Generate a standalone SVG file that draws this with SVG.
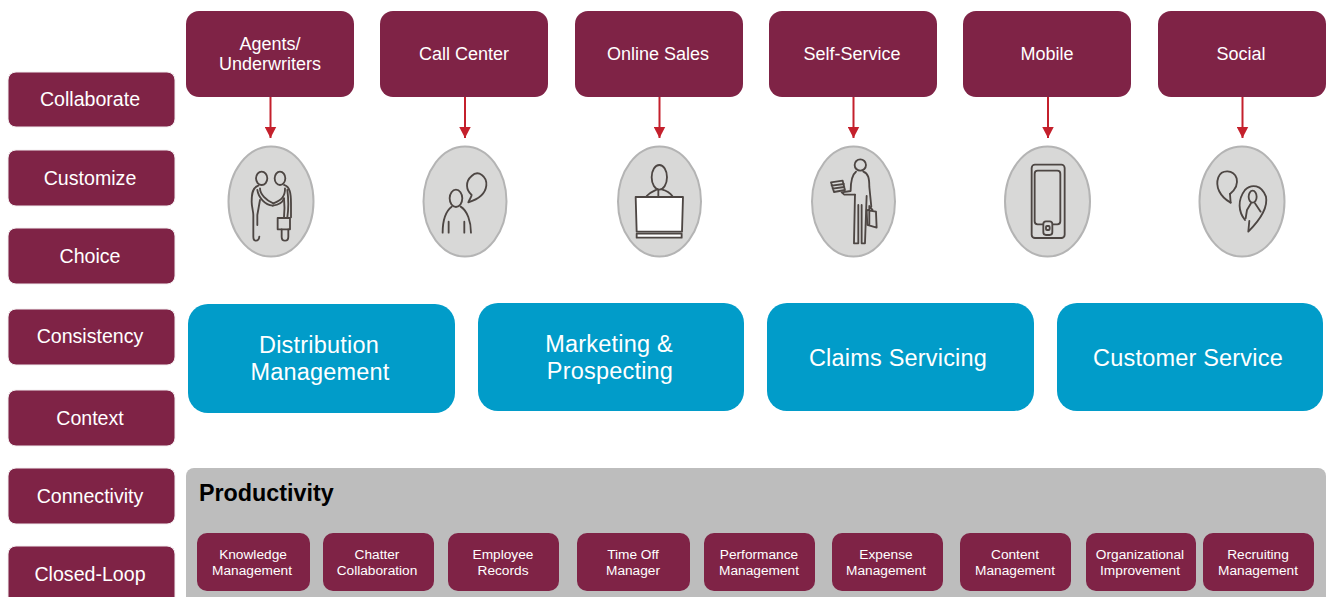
<svg xmlns="http://www.w3.org/2000/svg" width="1327" height="597" viewBox="0 0 1327 597">
<style>
text{font-family:"Liberation Sans",Arial,sans-serif;text-anchor:middle;fill:#fff}
.m{fill:#7f2346}
.side{stroke:#f3eef0;stroke-width:1}
.sl{font-size:19.6px}
.tl{font-size:18px}
.bl{font-size:23.500px;letter-spacing:.2px}
.sm{font-size:13.700px}
.b{fill:#019cc9}
.e{fill:#d8d8d7;stroke:#b4b4b4;stroke-width:2}
.i{fill:none;stroke:#4d4643;stroke-width:5.500;stroke-linecap:round;stroke-linejoin:round}
.w{fill:#fff}
.c{stroke:#c4202c;stroke-width:2;fill:none;marker-end:url(#ah)}
</style>
<defs>
<marker id="ah" markerUnits="userSpaceOnUse" markerWidth="12" markerHeight="12" refX="11.500" refY="6" orient="auto"><path d="M0,0L11.500,6L0,12Z" fill="#c4202c"/></marker>
</defs>
<rect width="1327" height="597" fill="#fff"/>
<g id="side-collaborate"><rect class="m side" x="8" y="72" width="167" height="55" rx="8"/><text class="sl" x="90" y="106">Collaborate</text></g>
<g id="side-customize"><rect class="m side" x="8" y="150" width="167" height="56" rx="8"/><text class="sl" x="90" y="185">Customize</text></g>
<g id="side-choice"><rect class="m side" x="8" y="228" width="167" height="56" rx="8"/><text class="sl" x="90" y="263">Choice</text></g>
<g id="side-consistency"><rect class="m side" x="8" y="309" width="167" height="56" rx="8"/><text class="sl" x="90" y="343">Consistency</text></g>
<g id="side-context"><rect class="m side" x="8" y="390" width="167" height="56" rx="8"/><text class="sl" x="90" y="425">Context</text></g>
<g id="side-connectivity"><rect class="m side" x="8" y="468" width="167" height="56" rx="8"/><text class="sl" x="90" y="503">Connectivity</text></g>
<g id="side-closed-loop"><rect class="m side" x="8" y="546" width="167" height="60" rx="8"/><text class="sl" x="90" y="581">Closed-Loop</text></g>

<g id="top-agents"><rect class="m" x="186" y="11" width="168" height="86" rx="13"/><text class="tl" x="270" y="50">Agents/</text><text class="tl" x="270" y="70">Underwriters</text></g>
<g id="top-call"><rect class="m" x="380" y="11" width="168" height="86" rx="13"/><text class="tl" x="464" y="60">Call Center</text></g>
<g id="top-online"><rect class="m" x="575" y="11" width="168" height="86" rx="13"/><text class="tl" x="658" y="60">Online Sales</text></g>
<g id="top-self"><rect class="m" x="769" y="11" width="168" height="86" rx="13"/><text class="tl" x="852" y="60">Self-Service</text></g>
<g id="top-mobile"><rect class="m" x="963" y="11" width="168" height="86" rx="13"/><text class="tl" x="1047" y="60">Mobile</text></g>
<g id="top-social"><rect class="m" x="1158" y="11" width="168" height="86" rx="13"/><text class="tl" x="1241" y="60">Social</text></g>

<g id="connectors">
<path class="c" d="M270.500 97V138"/>
<path class="c" d="M465 97V138"/>
<path class="c" d="M659.500 97V138"/>
<path class="c" d="M853.500 97V138"/>
<path class="c" d="M1048 97V138"/>
<path class="c" d="M1242.500 97V138"/>
</g>

<g id="icon-agents">
<ellipse class="e" cx="271" cy="201.500" rx="42.500" ry="55"/>
<g class="i" transform="translate(210 90) scale(.3333)">
<ellipse cx="155" cy="265" rx="17" ry="20"/><ellipse cx="210" cy="265" rx="16" ry="20"/>
<path d="M145 287C128 292 125 310 125 335C125 350 130 365 130 375V440C130 456 146 456 148 440"/>
<path d="M150 330L142 375V405"/>
<path d="M150 295C150 312 168 332 190 340M142 300C145 322 165 345 188 347"/>
<path d="M225 295C226 320 214 332 190 340M188 347C205 345 218 338 222 325"/>
<path d="M222 285C240 290 243 310 243 340V382M232 300C236 330 236 355 232 382M222 325C224 345 224 365 222 382"/>
<rect x="203" y="384" width="37" height="34"/>
<path d="M215 418V440C215 456 235 456 235 440V418"/>
</g>
</g>
<g id="icon-call">
<ellipse class="e" cx="465" cy="201.500" rx="41.500" ry="55"/>
<g class="i" transform="translate(210 90) scale(.3333)">
<ellipse cx="738" cy="325" rx="19" ry="26"/>
<path d="M698 428C698 385 712 360 725 350M752 350C772 362 783 395 783 428M716 428V395M763 428V395"/>
<path d="M775 337C780 325 785 320 785 315C768 300 765 275 785 258C805 238 832 260 829 287C826 312 805 328 775 337Z"/>
</g>
</g>
<g id="icon-online">
<ellipse class="e" cx="659.500" cy="201.500" rx="41.500" ry="55"/>
<g class="i" transform="translate(600 90) scale(.3333)">
<ellipse cx="178" cy="262" rx="23" ry="37"/>
<path d="M140 318C150 306 165 302 172 298M185 298C197 301 210 308 217 318M175 300V320"/>
<path class="w" d="M107 321H249L246 425H110Z"/>
<rect class="w" x="110" y="431" width="135" height="12"/>
</g>
</g>
<g id="icon-self">
<ellipse class="e" cx="853.500" cy="201.500" rx="41.500" ry="55"/>
<g class="i" transform="translate(600 90) scale(.3333)">
<circle cx="781" cy="225" r="17"/>
<path d="M768 245C755 255 752 275 752 303L725 307L733 314H765M790 245C805 250 808 265 808 290L814 350"/>
<path d="M765 314L762 460H775V345M785 345V460H795L800 318"/>
<path d="M693 277L728 272L735 300L702 306ZM695 287L732 282M698 296L733 291"/>
<path d="M800 360L828 365L830 413L802 405ZM808 362V405M808 360L808 348L818 360"/>
</g>
</g>
<g id="icon-mobile">
<ellipse class="e" cx="1047.500" cy="201.500" rx="42.500" ry="55"/>
<g class="i" transform="translate(990 90) scale(.3333)">
<rect x="125" y="224" width="99" height="220" rx="10"/>
<rect x="134" y="242" width="77" height="161" rx="9"/>
<rect x="160" y="394" width="27" height="41" rx="8" fill="#d8d8d7"/>
<rect x="168" y="408" width="11" height="12" rx="3"/>
</g>
</g>
<g id="icon-social">
<ellipse class="e" cx="1242" cy="201.500" rx="42.500" ry="55"/>
<g class="i" transform="translate(990 90) scale(.3333)">
<path d="M722 338C690 320 675 290 685 262C695 238 730 238 740 265C745 285 735 300 720 312"/>
<path d="M722 338L720 312"/>
<path d="M765 390C745 365 742 330 765 300C785 280 815 285 828 320C835 355 805 395 775 425L778 393"/>
<ellipse cx="788" cy="320" rx="12" ry="18"/>
<path d="M767 385L771 360L783 340M795 340L812 365"/>
</g>
</g>

<g id="mod-distribution"><rect class="b" x="188" y="304" width="267" height="109" rx="20"/><text class="bl" x="319" y="353">Distribution</text><text class="bl" x="320" y="380">Management</text></g>
<g id="mod-marketing"><rect class="b" x="478" y="303" width="266" height="108" rx="20"/><text class="bl" x="609" y="352">Marketing &amp;</text><text class="bl" x="610" y="379">Prospecting</text></g>
<g id="mod-claims"><rect class="b" x="767" y="303" width="267" height="108" rx="20"/><text class="bl" x="898" y="366">Claims Servicing</text></g>
<g id="mod-customer"><rect class="b" x="1057" y="303" width="266" height="108" rx="20"/><text class="bl" x="1188" y="366">Customer Service</text></g>

<g id="productivity">
<rect x="186" y="468" width="1140" height="140" rx="8" fill="#bdbdbd"/>
<text x="199" y="501" style="text-anchor:start;fill:#000;font-weight:bold;font-size:23.300px">Productivity</text>
</g>
<g id="p-knowledge"><rect class="m" x="197" y="533" width="113" height="58" rx="10"/><text class="sm" x="253" y="559">Knowledge</text><text class="sm" x="252" y="575">Management</text></g>
<g id="p-chatter"><rect class="m" x="323" y="533" width="111" height="58" rx="10"/><text class="sm" x="377" y="559">Chatter</text><text class="sm" x="377" y="575">Collaboration</text></g>
<g id="p-employee"><rect class="m" x="448" y="533" width="111" height="58" rx="10"/><text class="sm" x="503" y="559">Employee</text><text class="sm" x="503" y="575">Records</text></g>
<g id="p-timeoff"><rect class="m" x="577" y="533" width="113" height="58" rx="10"/><text class="sm" x="633" y="559">Time Off</text><text class="sm" x="633" y="575">Manager</text></g>
<g id="p-performance"><rect class="m" x="704" y="533" width="111" height="58" rx="10"/><text class="sm" x="759" y="559">Performance</text><text class="sm" x="759" y="575">Management</text></g>
<g id="p-expense"><rect class="m" x="832" y="533" width="111" height="58" rx="10"/><text class="sm" x="886" y="559">Expense</text><text class="sm" x="886" y="575">Management</text></g>
<g id="p-content"><rect class="m" x="960" y="533" width="111" height="58" rx="10"/><text class="sm" x="1015" y="559">Content</text><text class="sm" x="1015" y="575">Management</text></g>
<g id="p-org"><rect class="m" x="1086" y="533" width="110" height="58" rx="10"/><text class="sm" x="1140" y="559">Organizational</text><text class="sm" x="1140" y="575">Improvement</text></g>
<g id="p-recruiting"><rect class="m" x="1203" y="533" width="111" height="58" rx="10"/><text class="sm" x="1258" y="559">Recruiting</text><text class="sm" x="1258" y="575">Management</text></g>
</svg>
